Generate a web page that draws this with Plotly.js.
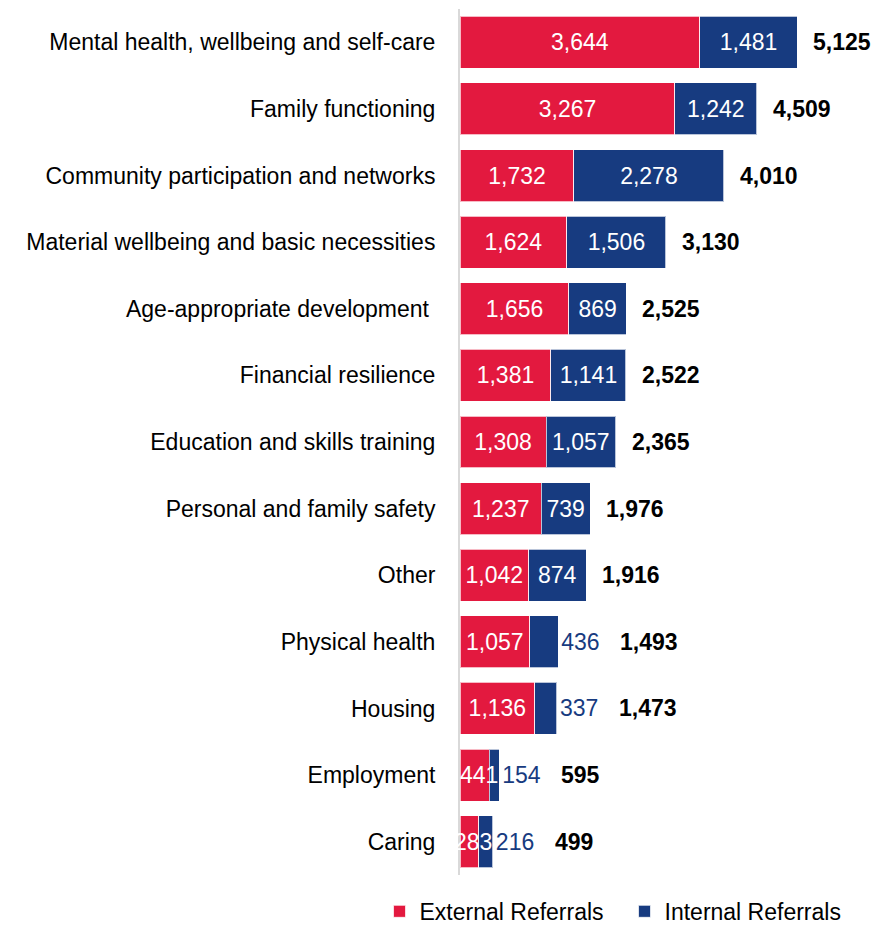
<!DOCTYPE html>
<html>
<head>
<meta charset="utf-8">
<script src="https://cdn.plot.ly/plotly-3.0.1.min.js"></script>
<style>html,body{margin:0;padding:0;background:#fff;}#chart{width:877px;height:925px;}</style>
</head>
<body>
<div id="chart"></div>
<script>
const categories = [
  "Mental health, wellbeing and self-care",
  "Family functioning",
  "Community participation and networks",
  "Material wellbeing and basic necessities",
  "Age-appropriate development\u00a0",
  "Financial resilience",
  "Education and skills training",
  "Personal and family safety",
  "Other",
  "Physical health",
  "Housing",
  "Employment",
  "Caring"
];
const externalReferrals = [3644, 3267, 1732, 1624, 1656, 1381, 1308, 1237, 1042, 1057, 1136, 441, 283];
const internalReferrals = [1481, 1242, 2278, 1506, 869, 1141, 1057, 739, 874, 436, 337, 154, 216];
const totals = [5125, 4509, 4010, 3130, 2525, 2522, 2365, 1976, 1916, 1493, 1473, 595, 499];

const RED = "#E3193F";
const BLUE = "#173B80";
const FONT = "Liberation Sans, Arial, sans-serif";
const FS = 23;
const xMax = 6337;
const plotW = 877 - 460;
const pxPerUnit = plotW / xMax;

const fmt = v => v.toLocaleString("en-US");
const fits = v => v * pxPerUnit > fmt(v).length * 12 + 6;
const internalPos = internalReferrals.map(v => fits(v) ? "inside" : "outside");
const externalFits = externalReferrals.map(fits);

const traces = [
  {
    type: "bar", orientation: "h", name: "External Referrals",
    y: categories, x: externalReferrals,
    marker: {color: RED, line: {color: "rgba(255,255,255,0.7)", width: 1}},
    text: externalReferrals.map((v, i) => externalFits[i] ? fmt(v) : ""),
    textposition: "inside", insidetextanchor: "middle",
    textangle: 0, constraintext: "none", cliponaxis: false,
    textfont: {color: "#ffffff", size: FS, family: FONT},
    hoverinfo: "x+y"
  },
  {
    type: "bar", orientation: "h", name: "Internal Referrals",
    y: categories, x: internalReferrals,
    marker: {color: BLUE, line: {color: "rgba(255,255,255,0.7)", width: 1}},
    text: internalReferrals.map(fmt), textposition: internalPos, insidetextanchor: "middle",
    textangle: 0, constraintext: "none", cliponaxis: false,
    insidetextfont: {color: "#ffffff", size: FS, family: FONT},
    outsidetextfont: {color: BLUE, size: FS, family: FONT},
    hoverinfo: "x+y"
  }
];

const annotations = totals.map((t, i) => ({
  x: t, y: categories[i], xref: "x", yref: "y",
  text: "<b>" + fmt(t) + "</b>", showarrow: false,
  xanchor: "left", yanchor: "middle",
  xshift: internalPos[i] === "outside" ? 60 : 14,
  font: {size: FS, color: "#000000", family: FONT}
}));

externalReferrals.forEach((v, i) => {
  if (!externalFits[i]) {
    annotations.push({
      x: v / 2, y: categories[i], xref: "x", yref: "y",
      text: fmt(v), showarrow: false, xanchor: "center", yanchor: "middle",
      xshift: 4,
      font: {size: FS, color: "#ffffff", family: FONT}
    });
  }
});

const layout = {
  width: 877, height: 925,
  margin: {l: 460, r: 0, t: 9, b: 50, pad: 0, autoexpand: false},
  barmode: "stack", bargap: 0.22,
  paper_bgcolor: "#ffffff", plot_bgcolor: "#ffffff",
  font: {family: FONT, size: FS, color: "#000000"},
  xaxis: {range: [0, xMax], visible: false, fixedrange: true},
  yaxis: {
    autorange: "reversed", showline: true, linecolor: "#D9D9D9", linewidth: 2,
    ticks: "", ticklabelstandoff: 18, showgrid: false, zeroline: false,
    tickfont: {size: FS, color: "#000000", family: FONT}
  },
  showlegend: true,
  legend: {
    orientation: "h", xref: "paper", yref: "paper",
    x: -0.193, xanchor: "left", y: -0.042, yanchor: "middle",
    entrywidth: 200, entrywidthmode: "pixels",
    font: {size: FS, color: "#000000", family: FONT}, itemwidth: 30, traceorder: "normal"
  },
  annotations: annotations
};

Plotly.newPlot("chart", traces, layout, {displayModeBar: false, staticPlot: true});
</script>
</body>
</html>
